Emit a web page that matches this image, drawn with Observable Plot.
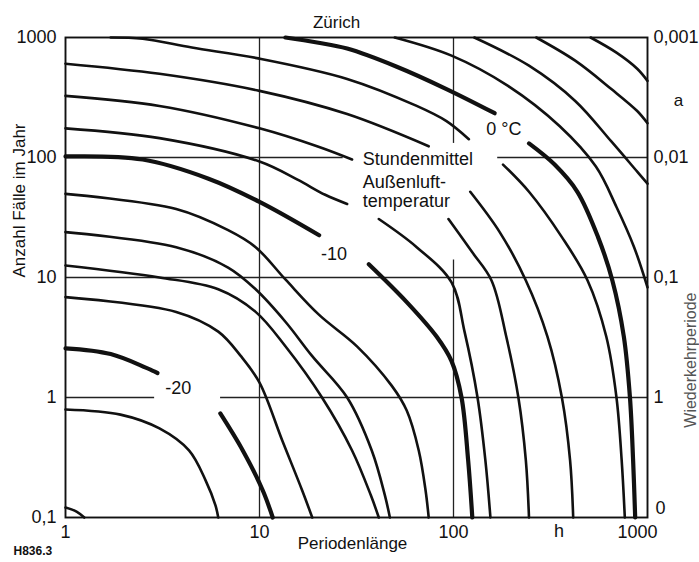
<!DOCTYPE html>
<html>
<head>
<meta charset="utf-8">
<script src="https://cdn.jsdelivr.net/npm/d3@7"></script>
<script src="https://cdn.jsdelivr.net/npm/@observablehq/plot@0.6"></script>
<style>
  html, body { margin: 0; padding: 0; background: #fff; }
</style>
</head>
<body>
<div id="chart"></div>
<script>
// Isotherms (hourly mean outdoor temperature, °C) — [Periodenlänge h, Anzahl Fälle im Jahr]
// segments "a"/"b" are interrupted by the labels
const p8   = [[509,1000],[692,748],[885,549],[1000,435]];
const p6   = [[267,1000],[424,641],[651,372],[885,244],[1000,193]];
const p4   = [[128,1000],[245,582],[424,296],[651,136],[885,76.2],[1000,60.5]];
const p2   = [[49.8,1000],[97.7,706],[191,395],[353,182],[542,84],[692,38.7],[853,17.9],[1000,8.28]];
const z0a  = [[13.6,1000],[19.8,908],[28.3,809],[51,571],[92,372],[163,234]];
const z0b  = [[245,131],[332,87.3],[435,51.8],[556,21.7],[659,9.45],[755,3.22],[812,1],[843,0.299],[864,0.1]];
const m2a  = [[1.71,1000],[2.5,975],[4.48,824],[10,667],[28.3,452],[64.6,269],[92,201],[120,142]];
const m2b  = [[180,87.3],[245,51.8],[362,21.7],[491,9.45],[613,3.22],[692,1],[736,0.299],[764,0.1]];
const m4a  = [[1,605],[3.05,498],[10,359],[28.3,230],[74.5,124]];
const m4b  = [[122,51.8],[173,23.9],[236,9.45],[305,3.22],[362,1],[399,0.299],[414,0.1]];
const m6a  = [[1,326],[3.05,269],[10,175],[19.8,124],[30,96.2]];
const m6b  = [[94.2,30.7],[125,16.2],[157,9.45],[187,3.22],[216,1],[236,0.299],[245,0.1]];
const m8a  = [[1,175],[3.05,145],[10,92.5],[15.7,65.3],[21.8,48.9],[28.3,41]];
const m8b  = [[41.2,30.7],[64.6,17.9],[97.7,9.1],[114,3.54],[133,1],[146,0.299],[155,0.1]];
const m10a = [[1,102],[2.5,96.2],[5.46,66.6],[10,42.7],[20.3,22.5]];
const m10b = [[36.6,12.9],[57.4,6.24],[81.8,3.22],[97.7,2.01],[110,1],[119,0.299],[125,0.1]];
const m12  = [[1,49.8],[3.72,37.2],[6.89,24.8],[9.55,17.9],[13.6,9.63],[20.3,4.88],[31.8,2.67],[48.1,1.25],[57.4,0.779],[66.2,0.362],[71.8,0.168],[74.5,0.1]];
const m14  = [[1,23.9],[3.72,17.9],[6.89,12.1],[9.55,7.97],[13.6,4.28],[18.7,2.21],[28.3,1],[37.9,0.362],[44.3,0.153],[47,0.1]];
const m16  = [[1,12.6],[3.05,10],[6.13,7.97],[9.55,5.17],[13.6,2.67],[21,1],[30,0.362],[37.5,0.153],[41.2,0.1]];
const m18  = [[1,6.86],[3.72,5.17],[6.13,3.54],[8.02,2.21],[10,1.33],[13.1,0.438],[16.6,0.168],[18.7,0.1]];
const m20a = [[1,2.57],[1.71,2.3],[2.98,1.6]];
const m20b = [[6.28,0.736],[8.2,0.362],[10.4,0.168],[11.7,0.1]];
const m22  = [[1,0.794],[1.92,0.72],[3.05,0.552],[4.33,0.362],[5.28,0.203],[5.93,0.126],[6.13,0.1]];
const m24  = [[1,0.121],[1.14,0.112],[1.25,0.1]];

const thinSegs  = [p8,p6,p4,p2,m2a,m2b,m4a,m4b,m6a,m6b,m8a,m8b,m12,m14,m16,m18,m22,m24];
const thickSegs = [z0a,z0b,m10a,m10b,m20a,m20b];

// ticks
const leftTicks = [0.1, 1, 10, 100, 1000];
const leftTickText = ["0,1", "1", "10", "100", "1000"];
const rightTicks = [1, 10, 100, 1000];
const rightTickText = ["1", "0,1", "0,01", "0,001"];
const bottomTicks = [1, 10, 100];
const bottomTickText = ["1", "10", "100"];

// grid lines (with gaps where the labels sit)
const gridH = [
  {y: 100, x1: 1, x2: 27}, {y: 100, x1: 169, x2: 1000},
  {y: 10, x1: 1, x2: 1000},
  {y: 1, x1: 1, x2: 2.88}, {y: 1, x1: 6.3, x2: 1000}
];
const gridV = [
  {x: 10, y1: 0.1, y2: 1000},
  {x: 100, y1: 0.1, y2: 14}, {x: 100, y1: 131, y2: 1000}
];

// annotations
const notes = [
  {x: 182, y: 172, t: "0 °C"},
  {x: 24.2, y: 15.6, t: "-10"},
  {x: 3.81, y: 1.19, t: "-20"}
];
const legendLines = [
  {x: 34.1, y: 96.2, t: "Stundenmittel"},
  {x: 34.1, y: 62.8, t: "Außenluft-"},
  {x: 34.1, y: 43.5, t: "temperatur"}
];

const rows = segs => segs.flatMap((s, i) => s.map(([x, y]) => ({x, y, seg: i})));

const FONT = "'Liberation Sans', Arial, Helvetica, sans-serif";

const chart = Plot.plot({
  width: 699,
  height: 562,
  marginLeft: 65,
  marginRight: 52,
  marginTop: 37,
  marginBottom: 45,
  style: {fontFamily: FONT, background: "#fff", color: "#111"},
  x: {type: "log", domain: [1, 1000], axis: null},
  y: {type: "log", domain: [0.1, 1000], axis: null},
  marks: [
    Plot.ruleY(gridH, {y: "y", x1: "x1", x2: "x2", stroke: "#222", strokeWidth: 1.3}),
    Plot.ruleX(gridV, {x: "x", y1: "y1", y2: "y2", stroke: "#222", strokeWidth: 1.3}),
    Plot.line(rows(thinSegs), {x: "x", y: "y", z: "seg", stroke: "#111", strokeWidth: 2.6, curve: "catmull-rom"}),
    Plot.line(rows(thickSegs), {x: "x", y: "y", z: "seg", stroke: "#111", strokeWidth: 4.2, curve: "catmull-rom"}),
    Plot.frame({stroke: "#111", strokeWidth: 1.9}),
    // left ticks
    Plot.text(leftTicks, {y: d => d, text: (d, i) => leftTickText[i], frameAnchor: "left", textAnchor: "end", dx: -9, fontSize: 18}),
    // right ticks
    Plot.text(rightTicks, {y: d => d, text: (d, i) => rightTickText[i], frameAnchor: "right", textAnchor: "start", dx: 6, fontSize: 18}),
    Plot.text(["0"], {y: 0.1, frameAnchor: "right", textAnchor: "start", dx: 8, dy: -9, fontSize: 18}),
    Plot.text(["a"], {y: 296, frameAnchor: "right", textAnchor: "middle", dx: 31, fontSize: 17}),
    // bottom ticks
    Plot.text(bottomTicks, {x: d => d, text: (d, i) => bottomTickText[i], frameAnchor: "bottom", dy: 20, fontSize: 18}),
    Plot.text(["1000"], {x: 1000, frameAnchor: "bottom", textAnchor: "middle", dx: -10, dy: 20, fontSize: 18}),
    Plot.text(["h"], {x: 350, frameAnchor: "bottom", dy: 19, fontSize: 18}),
    // axis titles
    Plot.text(["Zürich"], {frameAnchor: "top", dx: -20, dy: -22, fontSize: 17}),
    Plot.text(["Periodenlänge"], {frameAnchor: "bottom", dx: -4, dy: 31, fontSize: 17}),
    Plot.text(["Anzahl Fälle im Jahr"], {frameAnchor: "left", dx: -46, rotate: -90, fontSize: 17}),
    Plot.text(["Wiederkehrperiode"], {frameAnchor: "right", dx: 43, dy: 15, rotate: -90, fontSize: 16, fill: "#555"}),
    Plot.text(["H836.3"], {frameAnchor: "bottom-left", dx: -52, dy: 37, textAnchor: "start", fontSize: 12, fontWeight: "bold"}),
    // curve labels
    Plot.text(notes, {x: "x", y: "y", text: "t", fontSize: 18}),
    Plot.text(legendLines, {x: "x", y: "y", text: "t", textAnchor: "start", fontSize: 18})
  ]
});
document.getElementById("chart").appendChild(chart);
</script>
</body>
</html>
